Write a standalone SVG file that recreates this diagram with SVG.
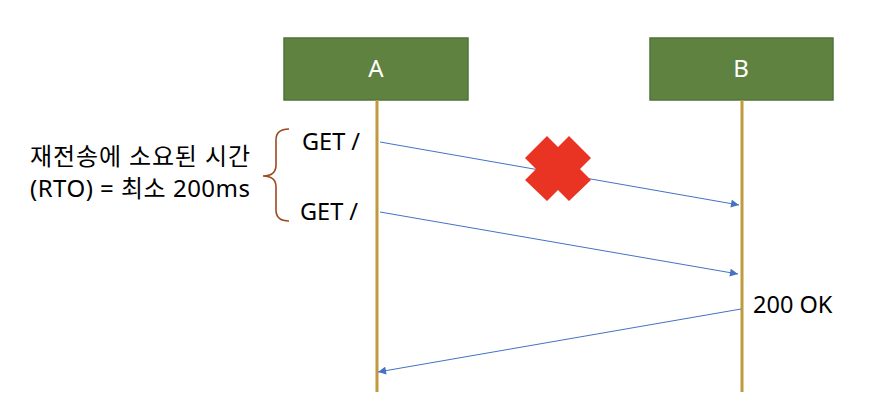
<svg xmlns="http://www.w3.org/2000/svg" width="880" height="416" viewBox="0 0 880 416">
<style>
.box{fill:#5F8241;stroke:#527337;stroke-width:1.5}
.life{stroke:#C09A3E;stroke-width:3;fill:none}
.msg{stroke:#4472C4;stroke-width:1;fill:none;marker-end:url(#ah)}
.lbl{font-family:"Noto Sans","Noto Sans CJK KR",sans-serif;font-size:23.5px;fill:#000}
.ko{font-family:"Noto Sans","Noto Sans CJK KR",sans-serif;font-size:24px;fill:#000}
.hd{font-family:"Noto Sans","Noto Sans CJK KR",sans-serif;font-size:24px;fill:#fff;text-anchor:middle}
</style>
<defs>
<marker id="ah" viewBox="0 0 10 10" refX="10" refY="5" markerWidth="10" markerHeight="8" markerUnits="userSpaceOnUse" orient="auto">
<path d="M0,0 L10,5 L0,10 z" fill="#4472C4"/>
</marker>
</defs>
<g id="nodeA">
<rect class="box" x="284" y="38" width="184" height="62"/>
<text class="hd" x="376" y="77">A</text>
<line class="life" x1="377" y1="100" x2="377" y2="392"/>
</g>
<g id="nodeB">
<rect class="box" x="650" y="38" width="183" height="62"/>
<text class="hd" x="741" y="77">B</text>
<line class="life" x1="742" y1="100" x2="742" y2="392"/>
</g>
<g id="connectors">
<line class="msg" x1="380" y1="142" x2="739" y2="205"/>
<line class="msg" x1="380" y1="212" x2="738" y2="274"/>
<line class="msg" x1="741" y1="309" x2="378" y2="372"/>
</g>
<g id="lost">
<polygon fill="#E93323" points="547,136 558,147 569,136 591,158 580,169 591,180 569,201 558,190 547,201 525,180 536,169 525,158"/>
</g>
<g id="labels">
<text class="lbl" x="302" y="150">GET /</text>
<text class="lbl" x="300" y="220">GET /</text>
<text class="lbl" x="753" y="313">200 OK</text>
<text class="ko" x="30" y="165" textLength="220" lengthAdjust="spacing">재전송에 소요된 시간</text>
<text class="ko" x="30" y="197" textLength="220" lengthAdjust="spacing">(RTO) = 최소 200ms</text>
</g>
<g id="brace">
<path d="M289,129 Q276,129 276,140 L276,165 Q276,176 263,176 Q276,176 276,187 L276,210 Q276,221 289,221" fill="none" stroke="#9C4A1E" stroke-width="1.6"/>
</g>
</svg>
